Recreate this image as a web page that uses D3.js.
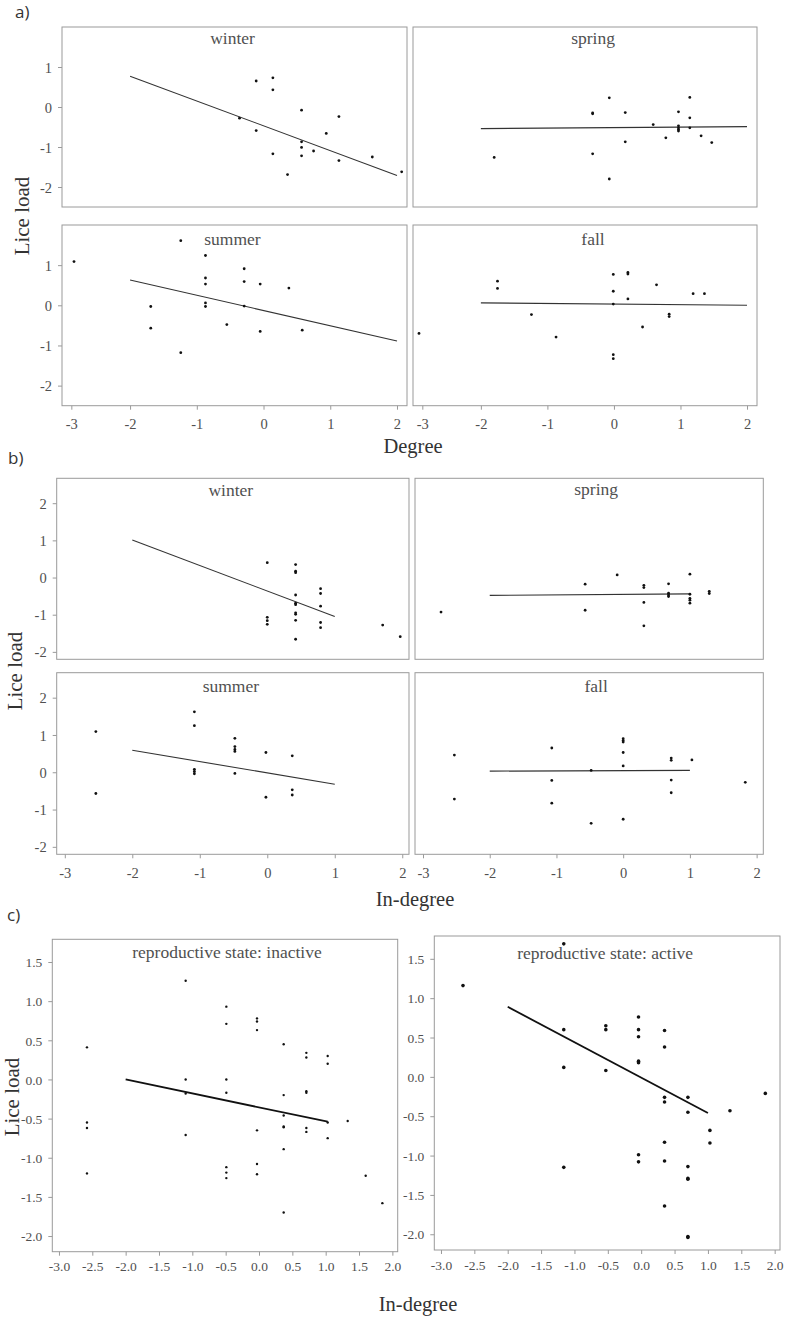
<!DOCTYPE html>
<html><head><meta charset="utf-8">
<script src="https://cdn.jsdelivr.net/npm/d3@7"></script>
<style>
html,body{margin:0;padding:0;background:#fff;}
svg{display:block;}
svg text{font-family:'Liberation Serif','Times New Roman',serif;}
svg text.letter{font-family:'Open Sans',sans-serif;}
</style></head><body>
<svg id="chart" width="787" height="1318"></svg>
<script>
// ---------------- data ----------------
const seasons = ["winter", "spring", "summer", "fall"];
const reproStates = ["reproductive state: inactive", "reproductive state: active"];
const panelLetters = ["a)", "b)", "c)"];
const axisTitles = { y: "Lice load", degree: "Degree", inDegree: "In-degree" };

// tick values + labels
const degreeXTicks = [-2.88, -2, -1, 0, 1, 2];
const degreeXLabels = ["-3", "-2", "-1", "0", "1", "2"];
const degreeYTicks = [-2, -1, 0, 1];
const inDegreeXTicks = [-3, -2, -1, 0, 1, 2];
const inDegreeYTicks = [-2, -1, 0, 1, 2];
const reproXTicks = [-3, -2.5, -2, -1.5, -1, -0.5, 0, 0.5, 1, 1.5, 2];
const reproYTicks = [-2, -1.5, -1, -0.5, 0, 0.5, 1, 1.5];

// a) Degree vs lice load, by season  [x, y]
const degWinter = [[-0.36,-0.28],[-0.11,0.65],[-0.11,-0.59],[0.14,0.73],[0.14,0.43],[0.14,-1.17],[0.36,-1.69],[0.57,-0.08],[0.57,-0.87],[0.57,-1.01],[0.57,-1.22],[0.75,-1.10],[0.94,-0.66],[1.13,-0.24],[1.13,-1.34],[1.63,-1.25],[2.07,-1.62]];
const degSpring = [[-1.80,-1.26],[-0.32,-0.15],[-0.32,-0.17],[-0.32,-1.17],[-0.07,0.23],[-0.07,-1.80],[0.17,-0.14],[0.17,-0.87],[0.59,-0.44],[0.78,-0.77],[0.97,-0.12],[0.97,-0.47],[0.97,-0.52],[0.97,-0.56],[0.97,-0.60],[1.14,0.24],[1.14,-0.27],[1.14,-0.52],[1.31,-0.72],[1.47,-0.89]];
const degSummer = [[-2.84,1.09],[-1.69,-0.03],[-1.69,-0.57],[-1.24,1.61],[-1.24,-1.18],[-0.87,1.24],[-0.87,0.68],[-0.87,0.53],[-0.87,0.06],[-0.87,-0.03],[-0.55,-0.48],[-0.29,0.91],[-0.29,0.59],[-0.29,-0.02],[-0.05,0.53],[-0.05,-0.65],[0.38,0.43],[0.58,-0.62]];
const degFall = [[-2.93,-0.70],[-1.75,0.60],[-1.75,0.42],[-1.24,-0.23],[-0.87,-0.79],[-0.01,0.77],[-0.01,0.35],[-0.01,0.03],[-0.01,-1.23],[-0.01,-1.33],[0.21,0.82],[0.21,0.78],[0.21,0.16],[0.43,-0.54],[0.64,0.51],[0.83,-0.22],[0.83,-0.28],[1.19,0.29],[1.36,0.29]];
const degWinterFit = [[-2,0.77],[2,-1.71]];
const degSpringFit = [[-2,-0.54],[2,-0.49]];
const degSummerFit = [[-2,0.63],[2,-0.89]];
const degFallFit = [[-2,0.06],[2,0.0]];

// b) In-degree vs lice load, by season
const inWinter = [[0.0,0.40],[0.0,-1.07],[0.0,-1.16],[0.0,-1.26],[0.42,0.35],[0.42,0.17],[0.42,0.13],[0.42,-0.47],[0.42,-0.69],[0.42,-0.73],[0.42,-0.95],[0.42,-0.99],[0.42,-1.15],[0.42,-1.66],[0.79,-0.30],[0.79,-0.43],[0.79,-0.77],[0.79,-1.21],[0.79,-1.35],[1.71,-1.28],[1.97,-1.59]];
const inSpring = [[-2.73,-0.93],[-0.57,-0.18],[-0.57,-0.88],[-0.09,0.07],[0.31,-0.21],[0.31,-0.27],[0.31,-0.67],[0.31,-1.30],[0.68,-0.17],[0.68,-0.42],[0.68,-0.47],[0.68,-0.51],[1.0,0.09],[1.0,-0.45],[1.0,-0.56],[1.0,-0.61],[1.0,-0.69],[1.29,-0.37],[1.29,-0.43]];
const inSummer = [[-2.54,1.09],[-2.54,-0.57],[-1.08,1.62],[-1.08,1.25],[-1.08,0.08],[-1.08,0.02],[-1.08,-0.04],[-0.48,0.91],[-0.48,0.69],[-0.48,0.61],[-0.48,0.56],[-0.48,-0.03],[-0.02,0.53],[-0.02,-0.67],[0.37,0.44],[0.37,-0.47],[0.37,-0.61]];
const inFall = [[-2.53,0.46],[-2.53,-0.72],[-1.07,0.65],[-1.07,-0.22],[-1.07,-0.83],[-0.48,0.05],[-0.48,-1.37],[0.0,0.90],[0.0,0.85],[0.0,0.81],[0.0,0.53],[0.0,0.17],[0.0,-1.26],[0.72,0.38],[0.72,0.32],[0.72,-0.21],[0.72,-0.55],[1.03,0.33],[1.83,-0.27]];
const inWinterFit = [[-2,1.01],[1,-1.05]];
const inSpringFit = [[-2,-0.48],[1,-0.44]];
const inSummerFit = [[-2,0.59],[1,-0.32]];
const inFallFit = [[-2,0.03],[1,0.05]];

// c) In-degree vs lice load, by reproductive state
const inactive = [[-2.58,0.41],[-1.10,1.26],[-1.10,0.0],[-1.10,-0.18],[-0.49,0.93],[-0.49,0.71],[-0.49,0.0],[-0.49,-0.17],[-0.03,0.78],[-0.03,0.74],[-0.03,0.63],[0.37,0.45],[0.37,-0.20],[0.71,0.34],[0.71,0.28],[0.71,-0.15],[0.71,-0.17],[1.03,0.30],[1.03,0.20],[-2.58,-0.55],[-2.58,-0.62],[-2.58,-1.20],[-1.10,-0.71],[-0.49,-1.12],[-0.49,-1.19],[-0.49,-1.26],[-0.03,-0.65],[-0.03,-1.08],[-0.03,-1.21],[0.37,-0.46],[0.37,-0.60],[0.37,-0.61],[0.37,-0.89],[0.37,-1.70],[0.71,-0.62],[0.71,-0.67],[1.03,-0.55],[1.03,-0.75],[1.33,-0.53],[1.60,-1.23],[1.85,-1.58]];
const active = [[-2.67,1.16],[-1.16,1.69],[-1.16,0.60],[-1.16,0.12],[-0.53,0.65],[-0.53,0.60],[-0.53,0.08],[-0.04,0.76],[-0.04,0.60],[-0.04,0.51],[-0.04,0.20],[-0.04,0.18],[0.35,0.59],[0.35,0.38],[0.35,-0.26],[0.35,-0.32],[0.70,-0.26],[1.86,-0.21],[0.70,-0.45],[1.33,-0.43],[1.03,-0.68],[1.03,-0.84],[0.35,-0.83],[-0.04,-0.99],[-0.04,-1.08],[0.35,-1.07],[-1.16,-1.15],[0.70,-1.14],[0.70,-1.29],[0.70,-1.30],[0.35,-1.64],[0.70,-2.03],[0.70,-2.04]];
const inactiveFit = [[-2,0.0],[1.03,-0.54]];
const activeFit = [[-2,0.89],[1.0,-0.46]];

// ---------------- drawing ----------------
const svg = d3.select("#chart");
const SERIF = "'Liberation Serif','Times New Roman',serif";
const BOX = "#9a9a9a", TXT = "#505050";
const hyphen = s => s.replace(/\u2212/g, "-");

function panel(o) {
  const g = svg.append("g").attr("transform", `translate(${o.x0},${o.y0})`);
  const x = d3.scaleLinear().domain(o.xDomain).range([0, o.w]);
  const y = d3.scaleLinear().domain(o.yDomain).range([o.h, 0]);

  if (o.showX) {
    const ax = g.append("g").attr("transform", `translate(0,${o.h})`)
      .call(d3.axisBottom(x).tickValues(o.xTicks)
        .tickFormat((d, i) => o.xLabels ? o.xLabels[i] : hyphen(o.fmt(d)))
        .tickSize(4).tickSizeOuter(0));
    ax.attr("font-family", SERIF);
    ax.select(".domain").remove();
    ax.selectAll("line").attr("stroke", BOX);
    ax.selectAll("text").attr("y", o.xLabelOff).attr("dy", "0.35em")
      .attr("font-family", SERIF).attr("font-size", o.tickFont).attr("fill", TXT);
  }
  if (o.showY) {
    const ay = g.append("g")
      .call(d3.axisLeft(y).tickValues(o.yTicks).tickFormat(d => hyphen(o.fmt(d)))
        .tickSize(4).tickSizeOuter(0));
    ay.attr("font-family", SERIF);
    ay.select(".domain").remove();
    ay.selectAll("line").attr("stroke", BOX);
    ay.selectAll("text").attr("x", -o.yLabelOff).attr("dy", "0.35em")
      .attr("font-family", SERIF).attr("font-size", o.tickFont).attr("fill", TXT);
  }
  g.append("rect").attr("x", 0).attr("y", 0).attr("width", o.w).attr("height", o.h)
    .attr("fill", "none").attr("stroke", BOX).attr("stroke-width", 1);

  g.append("text").attr("x", o.w / 2 + o.titleDx).attr("y", o.titleDy)
    .attr("text-anchor", "middle").attr("font-family", SERIF)
    .attr("font-size", 17.5).attr("fill", TXT).text(o.title);

  g.append("path").datum(o.fit)
    .attr("d", d3.line().x(d => x(d[0])).y(d => y(d[1])))
    .attr("fill", "none").attr("stroke", o.lineColor).attr("stroke-width", o.lineW);

  g.selectAll("circle.pt").data(o.points).enter().append("circle")
    .attr("class", "pt").attr("cx", d => x(d[0])).attr("cy", d => y(d[1]))
    .attr("r", o.r).attr("fill", "#111");
}

const intFmt = d3.format("d");
const decFmt = d3.format(".1f");

// ---- panel a ----
const aCommon = { xDomain: [-3.02, 2.15], yDomain: [-2.5, 2.0], xTicks: degreeXTicks, xLabels: degreeXLabels,
  yTicks: degreeYTicks, fmt: intFmt, tickFont: 14.5, xLabelOff: 18.5, yLabelOff: 10, r: 1.4, lineColor: "#333", lineW: 1.1 };
panel({ ...aCommon, x0: 62, y0: 27, w: 345, h: 180, title: seasons[0], titleDx: -2, titleDy: 16.5, showY: true, showX: false, points: degWinter, fit: degWinterFit });
panel({ ...aCommon, x0: 413, y0: 27, w: 344, h: 180, title: seasons[1], titleDx: 8, titleDy: 16.5, showY: false, showX: false, points: degSpring, fit: degSpringFit });
panel({ ...aCommon, x0: 62, y0: 225, w: 345, h: 180.7, title: seasons[2], titleDx: -2, titleDy: 19.5, showY: true, showX: true, points: degSummer, fit: degSummerFit });
panel({ ...aCommon, x0: 413, y0: 225, w: 344, h: 180.7, title: seasons[3], titleDx: 8, titleDy: 19.5, showY: false, showX: true, points: degFall, fit: degFallFit });

// ---- panel b ----
const bCommon = { xDomain: [-3.12, 2.1], yDomain: [-2.2, 2.67], xTicks: inDegreeXTicks, xLabels: null,
  yTicks: inDegreeYTicks, fmt: intFmt, tickFont: 14.5, xLabelOff: 18.7, yLabelOff: 10, r: 1.4, lineColor: "#333", lineW: 1.1 };
panel({ ...bCommon, x0: 56.7, y0: 478.3, w: 352.3, h: 181, title: seasons[0], titleDx: -2, titleDy: 18, showY: true, showX: false, points: inWinter, fit: inWinterFit });
panel({ ...bCommon, x0: 415, y0: 478.3, w: 348.3, h: 181, title: seasons[1], titleDx: 7, titleDy: 16.5, showY: false, showX: false, points: inSpring, fit: inSpringFit });
panel({ ...bCommon, x0: 56.7, y0: 672.7, w: 352.3, h: 181.6, title: seasons[2], titleDx: -2, titleDy: 19, showY: true, showX: true, points: inSummer, fit: inSummerFit });
panel({ ...bCommon, x0: 415, y0: 672.7, w: 348.3, h: 181.6, title: seasons[3], titleDx: 7, titleDy: 19, showY: false, showX: true, points: inFall, fit: inFallFit });

// ---- panel c ----
const cCommon = { xDomain: [-3.1, 2.08], yDomain: [-2.2, 1.79], xTicks: reproXTicks, xLabels: null,
  yTicks: reproYTicks, fmt: decFmt, tickFont: 13.5, xLabelOff: 15, yLabelOff: 10, lineColor: "#111", lineW: 1.8, showX: true, showY: true };
panel({ ...cCommon, x0: 52.3, y0: 939.3, w: 345.4, h: 312.4, title: reproStates[0], titleDx: 2, titleDy: 19, r: 1.2, points: inactive, fit: inactiveFit });
panel({ ...cCommon, x0: 434.3, y0: 936, w: 345.7, h: 314, title: reproStates[1], titleDx: -2, titleDy: 22.5, r: 1.8, points: active, fit: activeFit });

// ---- panel letters & axis titles ----
const letterPos = [[15, 18], [8, 464], [7, 921]];
panelLetters.forEach((t, i) => svg.append("text").attr("class", "letter")
  .attr("x", letterPos[i][0]).attr("y", letterPos[i][1])
  .attr("font-family", "'Open Sans',sans-serif").attr("font-size", 17).attr("fill", "#333").text(t));

function yTitle(cx, cy) {
  svg.append("text").attr("transform", `translate(${cx},${cy}) rotate(-90)`)
    .attr("text-anchor", "middle").attr("dy", "0.35em")
    .attr("font-family", SERIF).attr("font-size", 21).attr("fill", "#333").text(axisTitles.y);
}
function xTitle(cx, by, t) {
  svg.append("text").attr("x", cx).attr("y", by).attr("text-anchor", "middle")
    .attr("font-family", SERIF).attr("font-size", 20.5).attr("fill", "#333").text(t);
}
yTitle(22, 216); xTitle(413, 453, axisTitles.degree);
yTitle(15, 671); xTitle(415, 906, axisTitles.inDegree);
yTitle(12, 1097); xTitle(418, 1311, axisTitles.inDegree);
</script>
</body></html>
